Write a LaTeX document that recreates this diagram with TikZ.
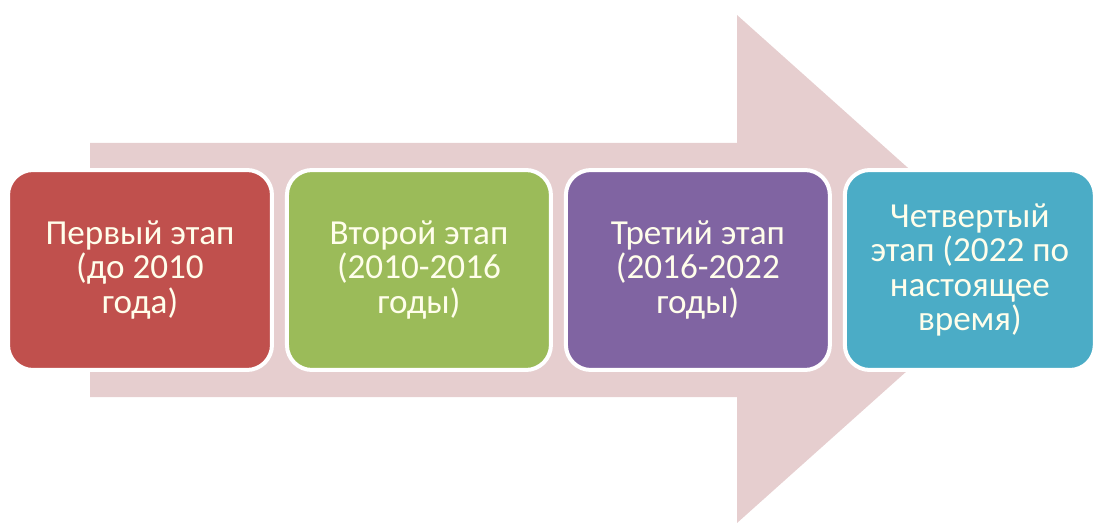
\documentclass[tikz,border=0pt]{standalone}
\usepackage{fontspec}
\setmainfont{Carlito}
\usepackage{xcolor}
\usetikzlibrary{positioning}

\definecolor{stageRed}{HTML}{C0504D}
\definecolor{stageGreen}{HTML}{9BBB59}
\definecolor{stagePurple}{HTML}{8064A2}
\definecolor{stageTeal}{HTML}{4BACC6}
\definecolor{arrowPink}{HTML}{E6CECF}

\begin{document}
\begin{tikzpicture}[
    x=0.02cm, y=-0.02cm,
    node distance=0.22cm,
    stage/.style={draw=white, line width=0.08cm, rounded corners=0.5cm,
                  minimum width=5.28cm, minimum height=4cm, align=center,
                  text=white!92!yellow, font=\fontsize{20}{19.5}\selectfont},
]
    \useasboundingbox (0,0) rectangle (1094,523);

    % big background arrow
    \fill[arrowPink] (90,143) -- (737,143) -- (737,15) -- (1021,269)
        -- (737,523) -- (737,397) -- (90,397) -- cycle;

    \node[stage, fill=stageRed] (first) at (140,270) {Первый этап\\(до 2010\\года)};
    \node[stage, fill=stageGreen, right=of first] (second) {Второй этап\\(2010-2016\\годы)};
    \node[stage, fill=stagePurple, right=of second] (third) {Третий этап\\(2016-2022\\годы)};
    \node[stage, fill=stageTeal, minimum width=5cm, right=of third] (fourth) {Четвертый\\этап (2022 по\\настоящее\\время)};
\end{tikzpicture}
\end{document}
